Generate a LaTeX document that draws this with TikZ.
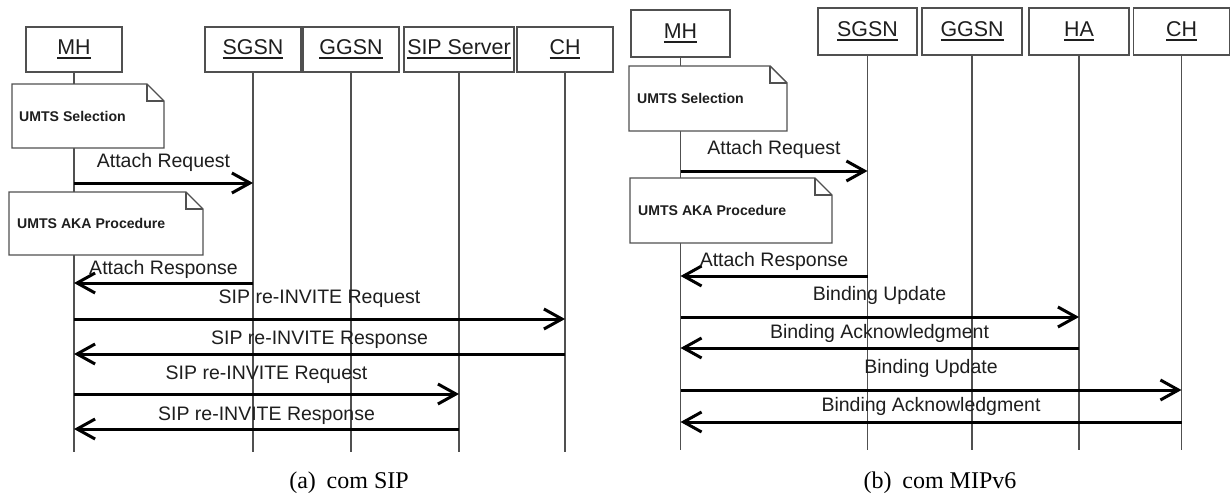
\documentclass[tikz,border=0pt]{standalone}
\usepackage{fontspec}
\setmainfont{Liberation Sans}
\newfontfamily\capfont{Liberation Serif}
\usetikzlibrary{arrows.meta}
\definecolor{edgegray}{HTML}{505050}
\definecolor{txt}{HTML}{1E1E1E}
\newcommand{\ulbox}[1]{\leavevmode\setbox0=\hbox{#1}\copy0\kern-\wd0\vrule width\wd0 height -2.6pt depth 4.2pt\relax}
\newcommand{\umlnote}[4]{%
  \draw[notebody] (#1,#2) -- (#3-17,#2) -- (#3,#2+17) -- (#3,#4) -- (#1,#4) -- cycle;
  \draw[notebody, fill=none] (#3-17,#2) -- (#3-17,#2+17) -- (#3,#2+17);
}
\tikzset{
  lifebox/.style={draw=edgegray, line width=1.6pt, fill=white, inner sep=0pt, text=txt, font=\fontsize{21.4}{25}\selectfont},
  lifeline/.style={draw=edgegray, line width=1.3pt},
  msg/.style={draw=black, line width=3pt, -{Straight Barb[length=18pt,width=20pt]}},
  msglabel/.style={anchor=base, inner sep=0pt, text=txt, font=\fontsize{19.5}{23}\selectfont},
  notebody/.style={draw=edgegray, line width=1.4pt, fill=white, line join=miter},
  notetext/.style={anchor=west, inner sep=0pt, text=txt, font=\fontsize{14.1}{17}\selectfont\bfseries},
  captext/.style={inner sep=0pt, text=black, font=\capfont\fontsize{24}{28}\selectfont},
}
\begin{document}
\begin{tikzpicture}[x=1pt, y=-1pt]
\fill[white] (0,0) rectangle (1231,495);
\useasboundingbox (0,0) rectangle (1231,495);

% ================= (a) com SIP =================
\node[lifebox, minimum width=96pt, minimum height=45pt] (mhA) at (74,49.5) {\ulbox{MH}};
\node[lifebox, minimum width=96pt, minimum height=45pt] (sgsnA) at (253,49.5) {\ulbox{SGSN}};
\node[lifebox, minimum width=96pt, minimum height=45pt] (ggsnA) at (351,49.5) {\ulbox{GGSN}};
\node[lifebox, minimum width=110pt, minimum height=45pt] (sipA) at (459,49.5) {\ulbox{SIP Server}};
\node[lifebox, minimum width=96pt, minimum height=45pt] (chA) at (565,49.5) {\ulbox{CH}};

\coordinate (mhAend) at (74,452);
\coordinate (sgsnAend) at (253,452);
\coordinate (ggsnAend) at (351,452);
\coordinate (sipAend) at (459,452);
\coordinate (chAend) at (565,452);
\draw[lifeline] (mhA.south) -- (mhAend);
\draw[lifeline] (sgsnA.south) -- (sgsnAend);
\draw[lifeline] (ggsnA.south) -- (ggsnAend);
\draw[lifeline] (sipA.south) -- (sipAend);
\draw[lifeline] (chA.south) -- (chAend);

\umlnote{12}{84}{164}{148}
\node[notetext] (noteA1) at (19,116) {UMTS Selection};
\umlnote{9}{192}{203}{255}
\node[notetext] (noteA2) at (17,223.5) {UMTS AKA Procedure};

\coordinate (a1m) at (74,183);   \coordinate (a1s) at (253,183);
\coordinate (a2m) at (74,283);   \coordinate (a2s) at (253,283);
\coordinate (a3m) at (74,319);   \coordinate (a3c) at (565,319);
\coordinate (a4m) at (74,354);   \coordinate (a4c) at (565,354);
\coordinate (a5m) at (74,394);   \coordinate (a5p) at (459,394);
\coordinate (a6m) at (74,429);   \coordinate (a6p) at (459,429);

\draw[msg] (a1m) -- (a1s);
\draw[msg] (a2s) -- (a2m);
\draw[msg] (a3m) -- (a3c);
\draw[msg] (a4c) -- (a4m);
\draw[msg] (a5m) -- (a5p);
\draw[msg] (a6p) -- (a6m);

\node[msglabel] (la1) at (163.5,167) {Attach Request};
\node[msglabel] (la2) at (163.5,274) {Attach Response};
\node[msglabel] (la3) at (319.5,303) {SIP re-INVITE Request};
\node[msglabel] (la4) at (319.5,344) {SIP re-INVITE Response};
\node[msglabel] (la5) at (266.5,379) {SIP re-INVITE Request};
\node[msglabel] (la6) at (266.5,420) {SIP re-INVITE Response};

\node[captext] (capA) at (349,483) {(a)\hspace{0.45em}com SIP};

% ================= (b) com MIPv6 =================
\node[lifebox, minimum width=99pt, minimum height=47pt] (mhB) at (680.5,33.5) {\ulbox{MH}};
\node[lifebox, minimum width=99pt, minimum height=47pt] (sgsnB) at (867.5,31.5) {\ulbox{SGSN}};
\node[lifebox, minimum width=100pt, minimum height=47pt] (ggsnB) at (972,31.5) {\ulbox{GGSN}};
\node[lifebox, minimum width=100pt, minimum height=47pt] (haB) at (1079,31.5) {\ulbox{HA}};
\node[lifebox, minimum width=96pt, minimum height=47pt] (chB) at (1181.5,31.5) {\ulbox{CH}};

\coordinate (mhBend) at (680.5,450);
\coordinate (sgsnBend) at (867.5,450);
\coordinate (ggsnBend) at (972,450);
\coordinate (haBend) at (1079,450);
\coordinate (chBend) at (1181.5,450);
\draw[lifeline] (mhB.south) -- (mhBend);
\draw[lifeline] (sgsnB.south) -- (sgsnBend);
\draw[lifeline] (ggsnB.south) -- (ggsnBend);
\draw[lifeline] (haB.south) -- (haBend);
\draw[lifeline] (chB.south) -- (chBend);

\umlnote{629}{66}{787}{131}
\node[notetext] (noteB1) at (637,98.5) {UMTS Selection};
\umlnote{630}{178}{832}{243}
\node[notetext] (noteB2) at (638,210.5) {UMTS AKA Procedure};

\coordinate (b1m) at (680.5,171);  \coordinate (b1s) at (867.5,171);
\coordinate (b2m) at (680.5,276);  \coordinate (b2s) at (867.5,276);
\coordinate (b3m) at (680.5,317);  \coordinate (b3h) at (1079,317);
\coordinate (b4m) at (680.5,348);  \coordinate (b4h) at (1079,348);
\coordinate (b5m) at (680.5,390);  \coordinate (b5c) at (1181.5,390);
\coordinate (b6m) at (680.5,422);  \coordinate (b6c) at (1181.5,422);

\draw[msg] (b1m) -- (b1s);
\draw[msg] (b2s) -- (b2m);
\draw[msg] (b3m) -- (b3h);
\draw[msg] (b4h) -- (b4m);
\draw[msg] (b5m) -- (b5c);
\draw[msg] (b6c) -- (b6m);

\node[msglabel] (lb1) at (774,154) {Attach Request};
\node[msglabel] (lb2) at (774,266) {Attach Response};
\node[msglabel] (lb3) at (879.5,300) {Binding Update};
\node[msglabel] (lb4) at (879.5,338) {Binding Acknowledgment};
\node[msglabel] (lb5) at (931,373) {Binding Update};
\node[msglabel] (lb6) at (931,411) {Binding Acknowledgment};

\node[captext] (capB) at (940,483) {(b)\hspace{0.45em}com MIPv6};
\end{tikzpicture}
\end{document}
